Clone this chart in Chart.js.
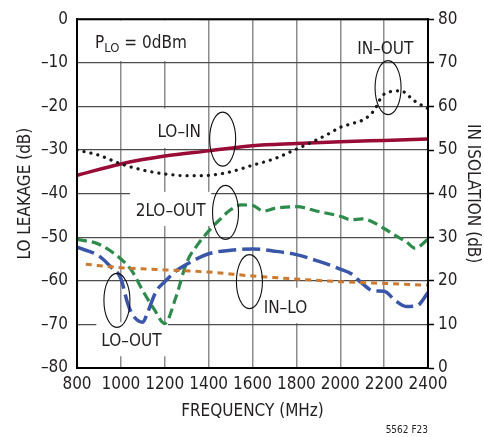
<!DOCTYPE html>
<html>
<head>
<meta charset="utf-8">
<script src="https://cdn.jsdelivr.net/npm/chart.js@4.4.1/dist/chart.umd.min.js"></script>
<style>
  html, body { margin: 0; padding: 0; background: #fff; }
  #wrap { width: 484px; height: 437px; }
</style>
</head>
<body>
<div id="wrap"><canvas id="c" width="484" height="437"></canvas></div>
<script>
// ---------- DATA ----------
const freqTicks = [800, 1000, 1200, 1400, 1600, 1800, 2000, 2200, 2400];
const leakageTicks = [0, -10, -20, -30, -40, -50, -60, -70, -80];
const isolationTicks = [80, 70, 60, 50, 40, 30, 20, 10, 0];

// LO-IN leakage (dB, left axis)
const loInFreq = [800, 1000, 1200, 1400, 1600, 1800, 2000, 2200, 2400];
const loInDb   = [-35.8, -33.2, -31.4, -30.2, -29.0, -28.5, -28.1, -27.8, -27.5];

// IN-OUT isolation (dB, right axis)
const inOutFreq = [800, 900, 1000, 1100, 1200, 1300, 1400, 1500, 1600, 1700, 1800, 1900, 1950, 2000, 2050, 2100, 2130, 2160, 2180, 2200, 2250, 2280, 2300, 2340, 2400];
const inOutIso  = [50.0, 48.8, 46.8, 45.4, 44.5, 44.1, 44.2, 45.0, 46.5, 48.0, 50.2, 52.5, 53.8, 55.2, 56.0, 56.8, 57.8, 59.5, 61.5, 62.8, 63.5, 63.6, 62.9, 61.2, 59.5];

// 2LO-OUT leakage (dB, left axis)
const twoLoOutFreq = [800, 900, 1000, 1050, 1100, 1150, 1200, 1250, 1300, 1350, 1400, 1450, 1500, 1550, 1600, 1650, 1700, 1800, 1900, 2000, 2050, 2100, 2200, 2250, 2300, 2340, 2400];
const twoLoOutDb   = [-50.5, -51.6, -55.0, -57.7, -62.3, -66.4, -69.8, -63.9, -55.8, -51.7, -48.6, -46.0, -43.7, -42.6, -42.7, -44.0, -43.4, -43.0, -44.1, -45.2, -46.0, -45.8, -48.0, -49.6, -51.0, -52.5, -50.5];

// LO-OUT leakage (dB, left axis)
const loOutFreq = [800, 900, 950, 1000, 1030, 1050, 1100, 1120, 1160, 1200, 1250, 1300, 1400, 1500, 1600, 1700, 1800, 1900, 2000, 2050, 2100, 2150, 2200, 2250, 2300, 2350, 2400];
const loOutDb   = [-52.3, -54.3, -56.6, -59.5, -65.0, -67.5, -69.5, -67.5, -62.5, -60.2, -57.8, -56.2, -53.8, -53.0, -52.7, -53.2, -54.0, -55.5, -57.3, -58.4, -60.6, -62.3, -62.4, -64.5, -65.9, -65.7, -62.7];

// IN-LO isolation (dB, right axis)
const inLoFreq = [840, 1000, 1200, 1400, 1600, 1800, 2000, 2200, 2400];
const inLoIso  = [23.8, 23.0, 22.5, 22.0, 21.1, 20.4, 19.8, 19.4, 19.0];

// ---------- STYLE / ANNOTATIONS ----------
const FONT = "'Liberation Sans Narrow', 'Arial Narrow', 'DejaVu Sans Condensed', sans-serif";
const FS = 17;
const TXT = '#231f20';

const pts = (xs, ys) => xs.map((x, i) => ({ x: x, y: ys[i] }));

// annotation anchors given in data units (MHz, dB on left axis)
const labels = [
  { text: 'LO\u2013IN',   f: 1266, d: -25.9 },
  { text: 'IN\u2013OUT',  f: 2205, d: -7.0 },
  { text: '2LO\u2013OUT', f: 1227, d: -44.1 },
  { text: 'LO\u2013OUT',  f: 1048, d: -73.9 },
  { text: 'IN\u2013LO',   f: 1750, d: -66.4 }
];
const ellipses = [
  { f: 1464, d: -27.5 },
  { f: 2218, d: -15.7 },
  { f: 1477, d: -44.3 },
  { f: 982,  d: -64.5 },
  { f: 1586, d: -60.2 }
];
const whiteBoxes = [
  { f1: 802, f2: 1355, d1: -0.3, d2: -9.6 },
  { f1: 1132, f2: 1380, d1: -20.5, d2: -29.5 },
  { f1: 1041, f2: 1412, d1: -39.6, d2: -47.4 },
  { f1: 888, f2: 1215, d1: -69.5, d2: -77.3 },
  { f1: 1632, f2: 1814, d1: -61.6, d2: -69.7 }
];

const annotPlugin = {
  id: 'annot',
  beforeDatasetsDraw(chart) {
    const ctx = chart.ctx, xs = chart.scales.x, ys = chart.scales.y;
    ctx.save();
    ctx.fillStyle = '#ffffff';
    for (const b of whiteBoxes) {
      const x1 = xs.getPixelForValue(b.f1), x2 = xs.getPixelForValue(b.f2);
      const y1 = ys.getPixelForValue(b.d1), y2 = ys.getPixelForValue(b.d2);
      ctx.fillRect(Math.min(x1, x2), Math.min(y1, y2), Math.abs(x2 - x1), Math.abs(y2 - y1));
    }
    ctx.restore();
  },
  afterDatasetsDraw(chart) {
    const ctx = chart.ctx, xs = chart.scales.x, ys = chart.scales.y;
    ctx.save();
    ctx.fillStyle = TXT;
    ctx.textBaseline = 'middle';
    ctx.textAlign = 'center';
    ctx.font = FS + 'px ' + FONT;
    for (const l of labels) {
      ctx.fillText(l.text, xs.getPixelForValue(l.f), ys.getPixelForValue(l.d));
    }
    // P_LO = 0dBm
    let px = xs.getPixelForValue(882), py = ys.getPixelForValue(-5.5);
    ctx.textAlign = 'left';
    ctx.font = FS + 'px ' + FONT;
    ctx.fillText('P', px, py);
    px += ctx.measureText('P').width;
    ctx.font = '13px ' + FONT;
    ctx.fillText('LO', px, py + 5);
    px += ctx.measureText('LO').width;
    ctx.font = FS + 'px ' + FONT;
    ctx.fillText(' = 0dBm', px, py);
    // ellipses
    ctx.strokeStyle = '#111';
    ctx.lineWidth = 1.1;
    for (const e of ellipses) {
      ctx.beginPath();
      ctx.ellipse(xs.getPixelForValue(e.f), ys.getPixelForValue(e.d), 13, 27, 0, 0, Math.PI * 2);
      ctx.stroke();
    }
    ctx.restore();
  },
  afterDraw(chart) {
    const ctx = chart.ctx, a = chart.chartArea;
    ctx.save();
    ctx.strokeStyle = '#000';
    ctx.lineWidth = 2;
    ctx.strokeRect(a.left, a.top, a.right - a.left, a.bottom - a.top);
    ctx.fillStyle = TXT;
    ctx.font = '10px ' + FONT;
    ctx.textAlign = 'right';
    ctx.textBaseline = 'middle';
    ctx.fillText('5562 F23', a.right, 430);
    ctx.restore();
  }
};

const lineBase = { pointRadius: 0, fill: false, cubicInterpolationMode: 'monotone' };

new Chart(document.getElementById('c'), {
  type: 'line',
  data: {
    datasets: [
      Object.assign({}, lineBase, { label: 'IN-LO', data: pts(inLoFreq, inLoIso), yAxisID: 'y2',
        borderColor: '#cc7a30', borderWidth: 3, borderDash: [6, 5] }),
      Object.assign({}, lineBase, { label: 'LO-OUT', data: pts(loOutFreq, loOutDb), yAxisID: 'y',
        borderColor: '#3a56a8', borderWidth: 3.5, borderDash: [18, 6] }),
      Object.assign({}, lineBase, { label: '2LO-OUT', data: pts(twoLoOutFreq, twoLoOutDb), yAxisID: 'y',
        borderColor: '#2e8b4c', borderWidth: 3.2, borderDash: [10, 5] }),
      Object.assign({}, lineBase, { label: 'IN-OUT', data: pts(inOutFreq, inOutIso), yAxisID: 'y2',
        borderColor: '#1a1a1a', borderWidth: 3.2, borderDash: [0.1, 7], borderCapStyle: 'round' }),
      Object.assign({}, lineBase, { label: 'LO-IN', data: pts(loInFreq, loInDb), yAxisID: 'y',
        borderColor: '#980c36', borderWidth: 3.5 })
    ]
  },
  options: {
    responsive: false,
    animation: false,
    events: [],
    layout: { padding: { left: 0, right: 0, top: 16, bottom: 0 } },
    plugins: { legend: { display: false }, tooltip: { enabled: false } },
    scales: {
      x: {
        type: 'linear', min: 800, max: 2400,
        afterBuildTicks: s => { s.ticks = freqTicks.map(v => ({ value: v })); },
        afterFit: s => { s.height = 69; },
        ticks: { color: TXT, font: { family: FONT, size: FS }, padding: 6, maxRotation: 0, autoSkip: false,
          callback: v => String(v) },
        grid: { color: '#8c8c8c', lineWidth: 1.5, drawTicks: false },
        border: { color: '#000', width: 2 },
        title: { display: true, text: 'FREQUENCY (MHz)', color: TXT, font: { family: FONT, size: FS }, padding: { top: 0, bottom: 15 } }
      },
      y: {
        type: 'linear', position: 'left', min: -80, max: 0,
        afterBuildTicks: s => { s.ticks = leakageTicks.map(v => ({ value: v })); },
        afterFit: s => { s.width = 77; },
        ticks: { color: TXT, font: { family: FONT, size: FS }, padding: 9,
          callback: v => v === 0 ? '0' : '\u2013' + Math.abs(v) },
        grid: { color: '#4d4d4d', lineWidth: 1.3, drawTicks: false },
        border: { color: '#000', width: 2 },
        title: { display: true, text: 'LO LEAKAGE (dB)', color: TXT, font: { family: FONT, size: FS }, padding: { top: 15, bottom: 0 } }
      },
      y2: {
        type: 'linear', position: 'right', min: 0, max: 80,
        afterBuildTicks: s => { s.ticks = isolationTicks.map(v => ({ value: v })); },
        afterFit: s => { s.width = 56; },
        ticks: { color: TXT, font: { family: FONT, size: FS }, padding: 4, callback: v => String(v) },
        grid: { drawOnChartArea: false, drawTicks: true, tickLength: 6, tickColor: '#000', tickWidth: 1.5 },
        border: { color: '#000', width: 2 },
        title: { display: true, text: 'IN ISOLATION (dB)', color: TXT, font: { family: FONT, size: FS }, padding: { top: 1, bottom: 0 } }
      }
    }
  },
  plugins: [annotPlugin]
});
</script>
</body>
</html>
